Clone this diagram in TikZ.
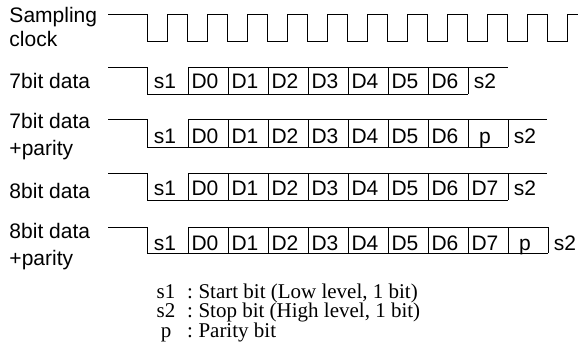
\documentclass[tikz,border=0pt]{standalone}
\usepackage{fontspec}
\setmainfont{Liberation Serif}
\setsansfont{Liberation Sans}

\tikzset{
    rowlabel/.style={font=\sffamily\fontsize{10.5}{12}\selectfont, anchor=base west, inner sep=0pt},
    bit/.style={font=\sffamily\fontsize{10.5}{12}\selectfont, anchor=base, inner sep=0pt},
    note/.style={font=\rmfamily\fontsize{10.5}{12}\selectfont, anchor=base west, inner sep=0pt},
    notekey/.style={font=\rmfamily\fontsize{10.5}{12}\selectfont, anchor=base, inner sep=0pt}
}

\begin{document}
\begin{tikzpicture}[x=0.5pt, y=-0.5pt, line width=0.5pt]
    \useasboundingbox (0, 0) rectangle (578, 354);

    % 采样时钟
    \node[rowlabel] (clk1) at (9, 22.7) {Sampling};
    \node[rowlabel] (clk2) at (9, 46.7) {clock};
    \draw (108, 14) \foreach \k in {0,...,10} {
        -- (147+40*\k, 14) -- (147+40*\k, 41) -- (167+40*\k, 41) -- (167+40*\k, 14)
    } -- (578, 14);

    % 7bit data
    \node[rowlabel] (lab1) at (9, 88.3) {7bit data};
    \draw (108, 67) -- (147, 67) -- (147, 94) -- (468, 94);
    \draw (188, 67) -- (508, 67);
    \foreach \k in {0,...,7}
        \draw (188+40*\k, 67) -- (188+40*\k, 94);
    \foreach \b [count=\i from 0] in {s1,D0,D1,D2,D3,D4,D5,D6,s2}
        \node[bit] (ra\i) at (165+40*\i, 88.3) {\b};

    % 7bit data + parity
    \node[rowlabel] (lab2a) at (9, 128.3) {7bit data};
    \node[rowlabel] (lab2b) at (9, 155) {+parity};
    \draw (108, 119) -- (147, 119) -- (147, 147) -- (508, 147);
    \draw (188, 119) -- (547, 119);
    \foreach \k in {0,...,8}
        \draw (188+40*\k, 119) -- (188+40*\k, 147);
    \foreach \b [count=\i from 0] in {s1,D0,D1,D2,D3,D4,D5,D6,p,s2}
        \node[bit] (rb\i) at (165+40*\i, 143.3) {\b};

    % 8bit data
    \node[rowlabel] (lab3) at (9, 198.3) {8bit data};
    \draw (108, 173) -- (147, 173) -- (147, 200) -- (508, 200);
    \draw (188, 173) -- (547, 173);
    \foreach \k in {0,...,8}
        \draw (188+40*\k, 173) -- (188+40*\k, 200);
    \foreach \b [count=\i from 0] in {s1,D0,D1,D2,D3,D4,D5,D6,D7,s2}
        \node[bit] (rc\i) at (165+40*\i, 195) {\b};

    % 8bit data + parity
    \node[rowlabel] (lab4a) at (9, 238.3) {8bit data};
    \node[rowlabel] (lab4b) at (9, 265) {+parity};
    \draw (108, 227) -- (147, 227) -- (147, 253) -- (548, 253);
    \draw (188, 227) -- (548, 227);
    \foreach \k in {0,...,9}
        \draw (188+40*\k, 227) -- (188+40*\k, 253);
    \foreach \b [count=\i from 0] in {s1,D0,D1,D2,D3,D4,D5,D6,D7,p,s2}
        \node[bit] (rd\i) at (165+40*\i, 250) {\b};

    % 说明
    \foreach \key/\txt [count=\i from 0] in {s1/{Start bit (Low level, 1 bit)},
                                             s2/{Stop bit (High level, 1 bit)},
                                             p/{Parity bit}} {
        \node[notekey] (key\i) at (166, 298.3+19.5*\i) {\key};
        \node[notekey] (col\i) at (190, 298.3+19.5*\i) {:};
        \node[note] (txt\i) at (198, 298.3+19.5*\i) {\txt};
    }
\end{tikzpicture}
\end{document}
